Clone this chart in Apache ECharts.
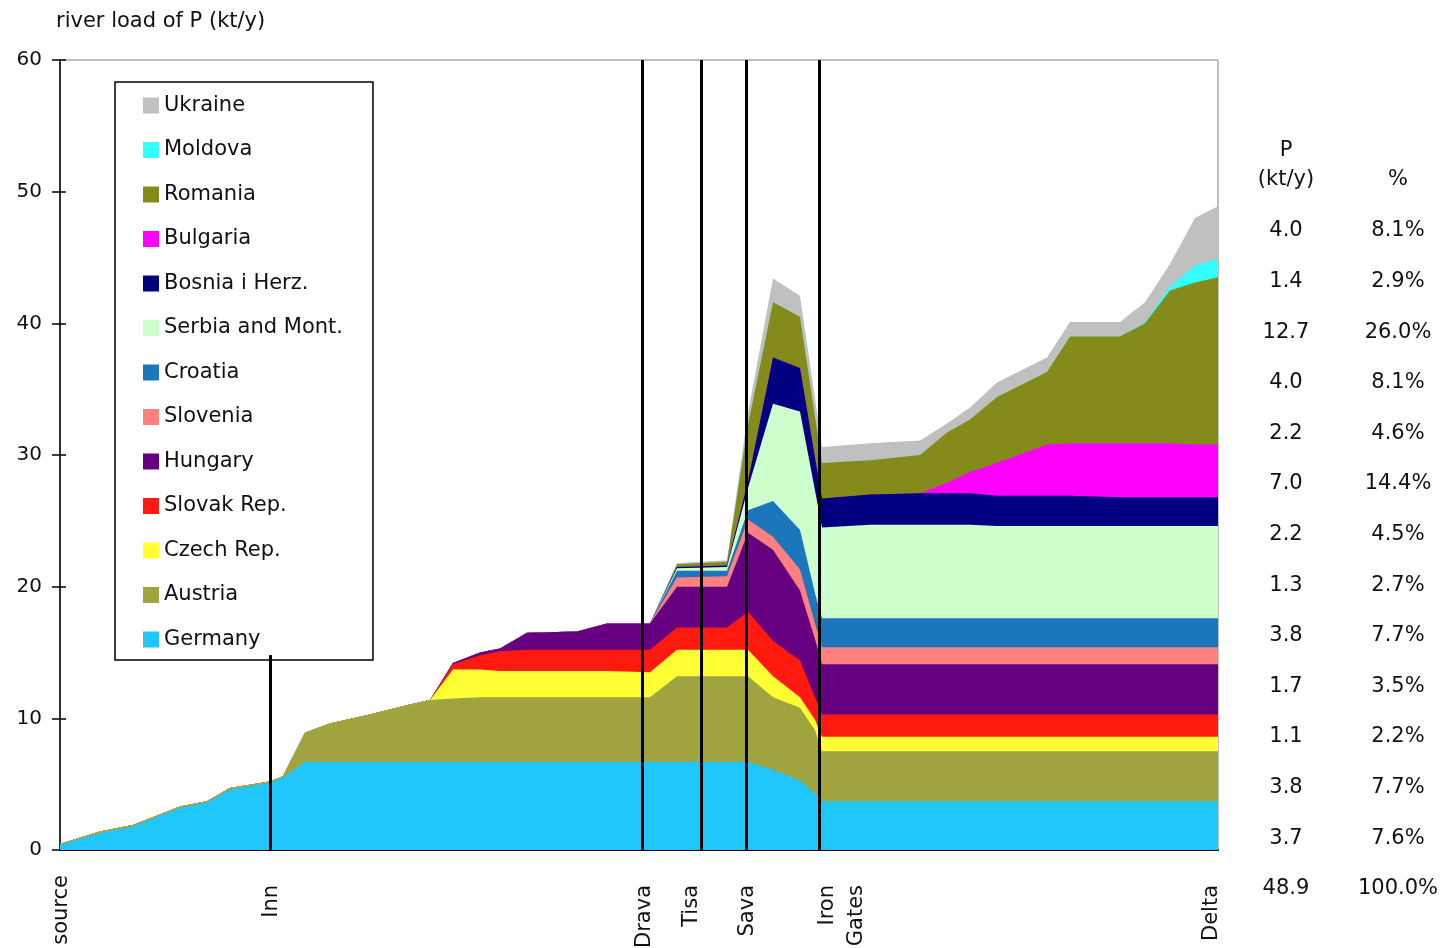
<!DOCTYPE html>
<html><head><meta charset="utf-8">
<script src="https://cdn.jsdelivr.net/npm/echarts@6/dist/echarts.min.js"></script>
<style>html,body{margin:0;padding:0;background:#fff}#c{width:1447px;height:948px}</style>
</head><body><div id="c"></div>
<script>
// distance along the river (arbitrary units, source = 0, delta = 1158)
const xPos = [0, 40, 73, 120, 147, 170, 210, 223, 245, 270, 310, 347, 370, 393, 420, 440, 467, 517, 547, 590,
  617, 667, 688, 713, 740, 755, 762, 810, 860, 887, 910, 937, 987, 1010, 1060, 1085, 1110, 1135, 1158];

// P load contributions (kt/y) per country, stacked bottom to top
const germany  = [0.4,1.3,1.8,3.2,3.6,4.6,5.1,5.5,6.7,6.7,6.7,6.7,6.7,6.7,6.7,6.7,6.7,6.7,6.7,6.7,
  6.7,6.7,6.7,6.1,5.3,4.3,3.7,3.7,3.7,3.7,3.7,3.7,3.7,3.7,3.7,3.7,3.7,3.7,3.7];
const austria  = [0.05,0.1,0.1,0.1,0.1,0.1,0.1,0.1,2.2,2.9,3.6,4.3,4.7,4.8,4.9,4.9,4.9,4.9,4.9,4.9,
  6.5,6.5,6.5,5.5,5.5,4.8,3.8,3.8,3.8,3.8,3.8,3.8,3.8,3.8,3.8,3.8,3.8,3.8,3.8];
const czech    = [0,0,0,0,0,0,0,0,0,0,0,0,0,2.2,2.1,2.0,2.0,2.0,2.0,1.9,
  2.0,2.0,2.0,1.6,0.8,0.8,1.1,1.1,1.1,1.1,1.1,1.1,1.1,1.1,1.1,1.1,1.1,1.1,1.1];
const slovak   = [0,0,0,0,0,0,0,0,0,0,0,0,0,0.4,1.1,1.5,1.6,1.6,1.6,1.7,
  1.7,1.7,2.9,2.7,2.8,1.7,1.7,1.7,1.7,1.7,1.7,1.7,1.7,1.7,1.7,1.7,1.7,1.7,1.7];
const hungary  = [0,0,0,0,0,0,0,0,0,0,0,0,0,0.1,0.2,0.2,1.3,1.4,2.0,2.0,
  3.1,3.1,6.0,6.9,5.3,4.4,3.8,3.8,3.8,3.8,3.8,3.8,3.8,3.8,3.8,3.8,3.8,3.8,3.8];
const slovenia = [0,0,0,0,0,0,0,0,0,0,0,0,0,0,0,0,0,0,0,0,
  0.7,0.8,1.0,1.0,1.6,1.2,1.3,1.3,1.3,1.3,1.3,1.3,1.3,1.3,1.3,1.3,1.3,1.3,1.3];
const croatia  = [0,0,0,0,0,0,0,0,0,0,0,0,0,0,0,0,0,0,0,0,
  0.5,0.4,0.7,2.7,3.0,2.3,2.2,2.2,2.2,2.2,2.2,2.2,2.2,2.2,2.2,2.2,2.2,2.2,2.2];
const serbia   = [0,0,0,0,0,0,0,0,0,0,0,0,0,0,0,0,0,0,0,0,
  0.2,0.3,1.7,7.4,9.0,7.8,6.9,7.1,7.1,7.1,7.1,7.0,7.0,7.0,7.0,7.0,7.0,7.0,7.0];
const bosnia   = [0,0,0,0,0,0,0,0,0,0,0,0,0,0,0,0,0,0,0,0,
  0.1,0.1,0.5,3.5,3.3,2.5,2.2,2.3,2.4,2.4,2.4,2.3,2.3,2.3,2.2,2.2,2.2,2.2,2.2];
const bulgaria = [0,0,0,0,0,0,0,0,0,0,0,0,0,0,0,0,0,0,0,0,
  0,0,0,0,0,0,0,0,0,0.8,1.6,2.5,3.9,4.0,4.1,4.1,4.1,4.0,4.0];
const romania  = [0,0,0,0,0,0,0,0,0,0,0,0,0,0,0,0,0,0,0,0,
  0.2,0.3,4.3,4.2,3.9,3.1,2.7,2.6,2.9,3.8,4.0,5.0,5.5,8.1,8.1,9.1,11.6,12.3,12.7];
const moldova  = [0,0,0,0,0,0,0,0,0,0,0,0,0,0,0,0,0,0,0,0,
  0,0,0,0,0,0,0,0,0,0,0,0,0,0,0,0.1,0.3,1.3,1.4];
const ukraine  = [0,0,0,0,0,0,0,0,0,0,0,0,0,0,0,0,0,0,0,0,
  0.1,0.1,0.9,1.8,1.6,1.4,1.2,1.3,1.1,0.7,0.9,1.1,1.1,1.1,1.1,1.5,1.7,3.6,4.0];

const countries = ['Germany','Austria','Czech Rep.','Slovak Rep.','Hungary','Slovenia','Croatia',
  'Serbia and Mont.','Bosnia i Herz.','Bulgaria','Romania','Moldova','Ukraine'];
const values = [germany, austria, czech, slovak, hungary, slovenia, croatia, serbia, bosnia, bulgaria, romania, moldova, ukraine];
const colors = ['#21c6fb','#a0a43e','#ffff33','#ff1a10','#660080','#ff8080','#1c76bc',
  '#ccffcc','#000080','#ff00ff','#858b1b','#33ffff','#c0c0c0'];

// river junctions (lines) and axis tick labels
const junctionNames = ['Inn','Drava','Tisa','Sava','Iron Gates'];
const junctionPos   = [210, 582, 641, 686, 759];
const innLineTop = 14.8;
const tickLabels = ['source','Inn','Drava','Tisa','Sava','Iron\nGates','Delta'];
const tickPos    = [2, 212, 585, 632, 688, 782, 1152];

// table at delta (top to bottom: Ukraine ... Germany)
const tableP   = [4.0, 1.4, 12.7, 4.0, 2.2, 7.0, 2.2, 1.3, 3.8, 1.7, 1.1, 3.8, 3.7];
const tablePct = [8.1, 2.9, 26.0, 8.1, 4.6, 14.4, 4.5, 2.7, 7.7, 3.5, 2.2, 7.7, 7.6];
const totalP = 48.9, totalPct = 100.0;

const FONT = 'DejaVu Sans';
const chart = echarts.init(document.getElementById('c'), null, {renderer: 'canvas'});

// cumulative tops (value/value axes: stack manually, draw top layer first)
const cum = [];
values.forEach((arr, k) => {
  cum.push(arr.map((v, i) => +(v + (k ? cum[k - 1][i] : 0)).toFixed(3)));
});
const series = [];
for (let k = countries.length - 1; k >= 0; k--) {
  series.push({
    name: countries[k], type: 'line', symbol: 'none', showSymbol: false,
    data: xPos.map((x, i) => [x, cum[k][i]]),
    lineStyle: {width: 0},
    itemStyle: {color: colors[k]},
    areaStyle: {color: colors[k], opacity: 1, origin: 'start'},
    emphasis: {disabled: true},
    silent: true
  });
}
series[series.length - 1].markLine = {
  silent: true, symbol: ['none','none'], animation: false,
  label: {show: false},
  lineStyle: {color: '#000', width: 3, type: 'solid'},
  data: junctionNames.map((n, i) => i === 0
    ? [{coord: [junctionPos[i], 0]}, {coord: [junctionPos[i], innLineTop]}]
    : {xAxis: junctionPos[i]})
};

const graphics = [];
const colP = 1286, colPct = 1398;
const tStyle = {font: '21px "' + FONT + '"', fill: '#111', textAlign: 'center', textVerticalAlign: 'middle'};
graphics.push({type: 'text', x: colP, y: 151, style: Object.assign({text: 'P'}, tStyle)});
graphics.push({type: 'text', x: colP, y: 180, style: Object.assign({text: '(kt/y)'}, tStyle)});
graphics.push({type: 'text', x: colPct, y: 180, style: Object.assign({text: '%'}, tStyle)});
tableP.forEach((v, i) => {
  const y = 231 + i * 50.6;
  graphics.push({type: 'text', x: colP, y, style: Object.assign({text: v.toFixed(1)}, tStyle)});
  graphics.push({type: 'text', x: colPct, y, style: Object.assign({text: tablePct[i].toFixed(1) + '%'}, tStyle)});
});
graphics.push({type: 'text', x: colP, y: 889, style: Object.assign({text: totalP.toFixed(1)}, tStyle)});
graphics.push({type: 'text', x: colPct, y: 889, style: Object.assign({text: totalPct.toFixed(1) + '%'}, tStyle)});

chart.setOption({
  animation: false,
  backgroundColor: '#fff',
  textStyle: {fontFamily: FONT},
  title: {text: 'river load of P (kt/y)', left: 51, top: 6,
    textStyle: {fontFamily: FONT, fontSize: 21, fontWeight: 'normal', color: '#111'}},
  grid: {left: 60, right: 229, top: 60, bottom: 98, show: true, borderColor: '#808080', borderWidth: 1,
    backgroundColor: 'transparent', containLabel: false, outerBoundsMode: 'none'},
  legend: {
    orient: 'vertical', left: 115, top: 82,
    data: countries.slice().reverse(),
    icon: 'rect', itemWidth: 16, itemHeight: 16, itemGap: 23.5,
    padding: [13, 30, 10, 28],
    borderColor: '#000', borderWidth: 1.5, backgroundColor: '#fff',
    textStyle: {fontFamily: FONT, fontSize: 21, color: '#111', lineHeight: 21},
    selectedMode: false
  },
  xAxis: {
    type: 'value', min: 0, max: 1158,
    splitLine: {show: false},
    axisLine: {show: true, onZero: false, lineStyle: {color: '#000', width: 2}},
    axisTick: {show: false},
    axisLabel: {
      customValues: tickPos, rotate: 90, margin: 25,
      fontFamily: FONT, fontSize: 21, color: '#111', lineHeight: 29,
      formatter: v => {
        const i = tickPos.indexOf(v);
        if (i < 0) return '';
        if (i === 0) return tickLabels[i];
        return tickLabels[i].split('\n').map(s => '{p|' + s + '}').join('\n');
      },
      rich: {p: {fontFamily: FONT, fontSize: 21, color: '#111', lineHeight: 29, padding: [0, 10, 0, 0]}}
    }
  },
  yAxis: [{
    type: 'value', min: 0, max: 60, interval: 10,
    splitLine: {show: false},
    axisLine: {show: true, lineStyle: {color: '#000', width: 1.5}},
    axisTick: {show: true, length: 8, lineStyle: {color: '#000', width: 1.5}},
    axisLabel: {fontFamily: FONT, fontSize: 20, color: '#111', margin: 18}
  }, {
    type: 'value', min: 0, max: 60, interval: 10, position: 'left',
    splitLine: {show: false}, axisLine: {show: false}, axisLabel: {show: false},
    axisTick: {show: true, inside: true, length: 6, lineStyle: {color: '#000', width: 1.5}}
  }],
  series,
  graphic: graphics
});
</script></body></html>
